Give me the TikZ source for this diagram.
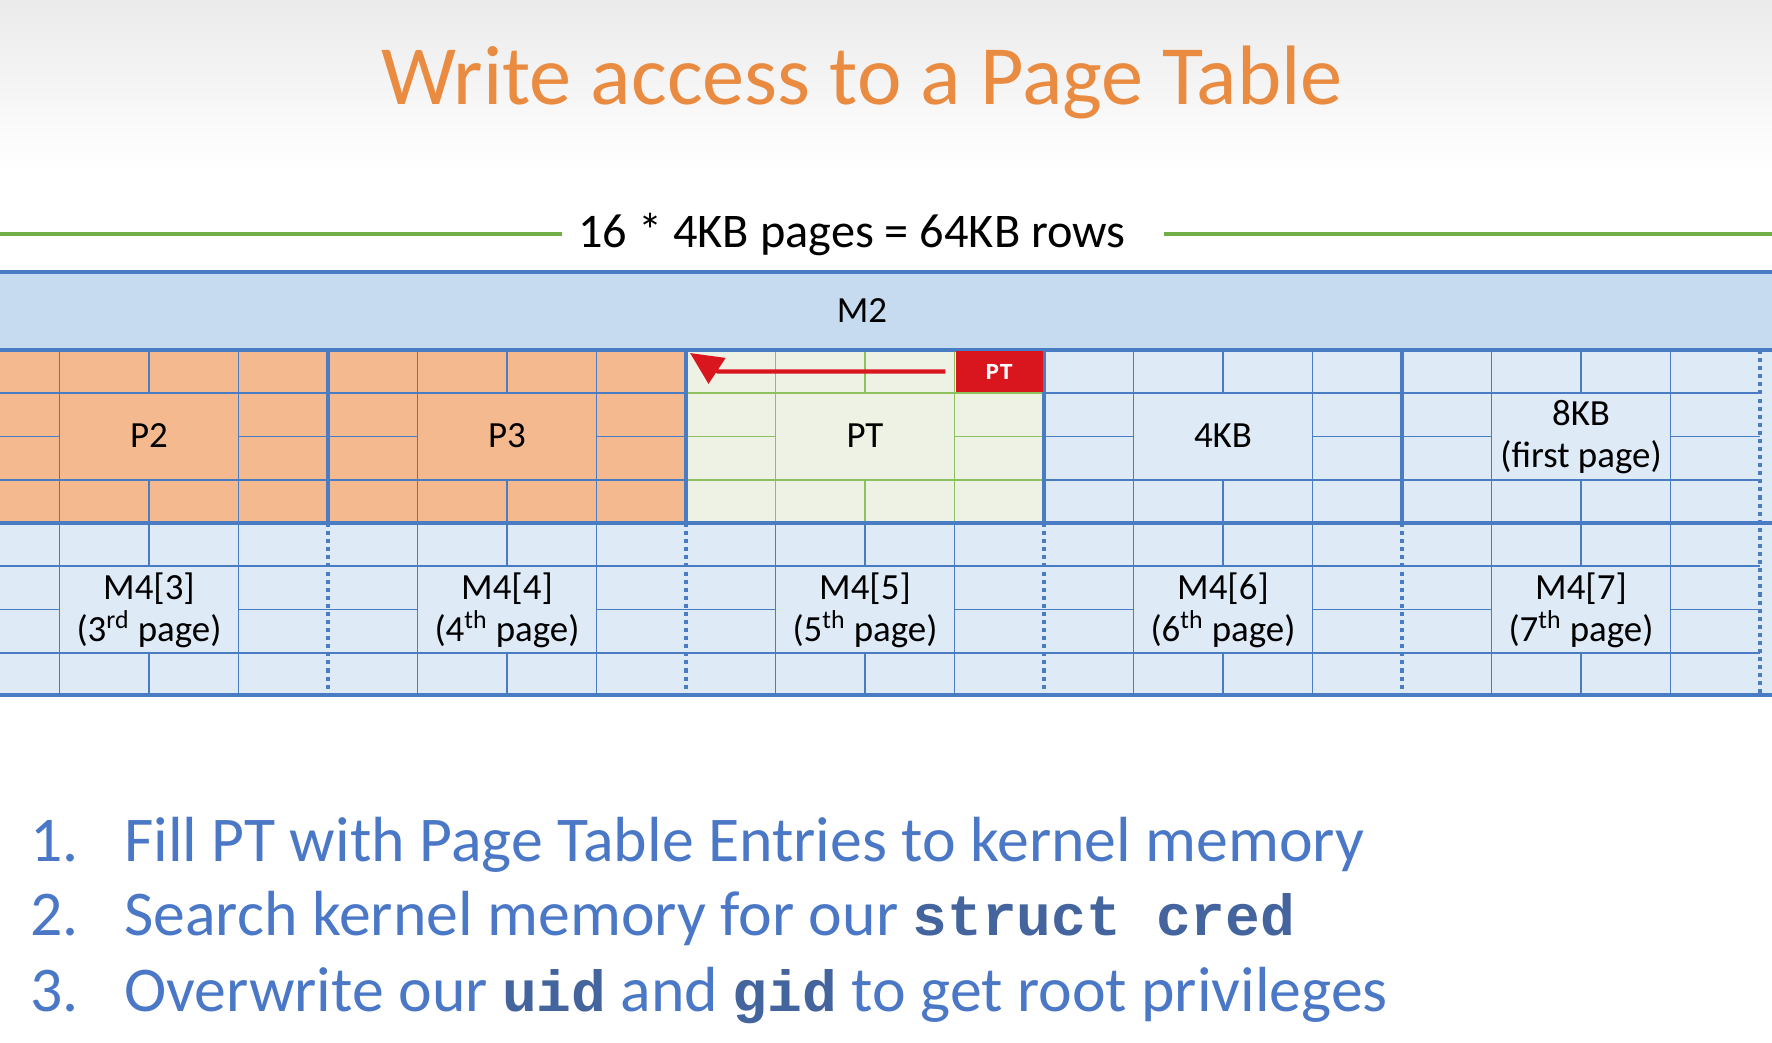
\documentclass[tikz,border=0pt]{standalone}
\usepackage{fontspec}
\setmainfont{Carlito}
\setmonofont{Liberation Mono}
\usepackage{tikz}
\usetikzlibrary{positioning, arrows.meta, calc}

\definecolor{gridblue}{HTML}{4A7CC4}
\definecolor{mtwofill}{HTML}{C6DAF0}
\definecolor{cellblue}{HTML}{DEEAF6}
\definecolor{pagepeach}{HTML}{F5B98F}
\definecolor{ptfill}{HTML}{EDF2E5}
\definecolor{ptgreen}{HTML}{8DC15E}
\definecolor{rulegreen}{HTML}{72AE48}
\definecolor{ptred}{HTML}{D9151D}
\definecolor{titleorange}{HTML}{EA8B42}
\definecolor{stepblue}{HTML}{4A78C6}
\definecolor{codeblue}{HTML}{44649E}

\begin{document}
\begin{tikzpicture}[
        x=0.02cm, y=-0.02cm,
        thinline/.style={gridblue, line width=1.1pt},
        thickline/.style={gridblue, line width=2.4pt},
        dotline/.style={gridblue, line width=2.4pt, dash pattern=on 2.3pt off 2.3pt},
        celllabel/.style={font=\fontsize{21}{24}\selectfont, align=center, inner sep=0pt},
        steptext/.style={font=\fontsize{36.3}{40}\selectfont, text=stepblue, anchor=base west, inner sep=0pt},
        code/.style={font=\fontsize{33}{40}\selectfont\ttfamily\bfseries, text=codeblue, inner sep=0pt}
    ]
    \useasboundingbox (0,0) rectangle (1772,1042);
    \fill[white] (0,0) rectangle (1772,1042);
    \shade[top color=black!8, bottom color=white] (0,0) rectangle (1772,170);

    % title and row size
    \node[font=\fontsize{48}{58}\selectfont, text=titleorange, anchor=base] (title) at (862,104) {Write access to a Page Table};
    \node[font=\fontsize{27.5}{32}\selectfont, inner sep=0pt] (rowsize) at (852,234) {16 * 4KB pages = 64KB rows};
    \draw[rulegreen, line width=2.2pt] (0,234) -- (562,234);
    \draw[rulegreen, line width=2.2pt] (1164,234) -- (1772,234);

    % M2 band
    \fill[mtwofill] (0,272) rectangle (1772,350);
    \node[celllabel] (mtwo) at (862,311) {M2};

    % row fills
    \foreach \k/\fc in {0/pagepeach, 1/pagepeach, 2/ptfill, 3/cellblue, 4/cellblue, 5/cellblue} {
        \fill[\fc] (-30+358*\k,350) rectangle (328+358*\k,523);
    }
    \fill[cellblue] (0,523) rectangle (1772,695);

    % brick pattern of 4KB pages
    \foreach \k in {0,...,4} {
        \foreach \t in {350,523} {
            \draw[thinline] (-30+358*\k,\t+43.25) -- ++(358,0)
                (-30+358*\k,\t+129.75) -- ++(358,0)
                (-30+358*\k,\t+86.5) -- ++(89.5,0)
                (238.5+358*\k,\t+86.5) -- ++(89.5,0)
                (59.5+358*\k,\t) -- ++(0,173)
                (238.5+358*\k,\t) -- ++(0,173)
                (149+358*\k,\t) -- ++(0,43.25)
                (149+358*\k,\t+129.75) -- ++(0,43.25);
        }
    }
    \draw[thinline, ptgreen] (686,393.25) -- ++(358,0)
        (686,479.75) -- ++(358,0)
        (686,436.5) -- ++(89.5,0)
        (954.5,436.5) -- ++(89.5,0)
        (775.5,350) -- ++(0,173)
        (954.5,350) -- ++(0,173)
        (865,350) -- ++(0,43.25)
        (865,479.75) -- ++(0,43.25);

    % row borders
    \foreach \y in {272, 350, 523, 695} {
        \draw[thickline] (0,\y) -- (1772,\y);
    }
    \foreach \x in {328, 686, 1044, 1402} {
        \draw[thickline] (\x,350) -- (\x,523);
        \draw[dotline] (\x,523) -- (\x,695);
    }
    \draw[dotline] (1760,350) -- (1760,695);

    % labels
    \node[celllabel] (ptwo) at (149,436) {P2};
    \node[celllabel] (pthree) at (507,436) {P3};
    \node[celllabel] (pttable) at (865,436) {PT};
    \node[celllabel] (fourkb) at (1223,436) {4KB};
    \node[celllabel] (eightkb) at (1581,437) {8KB\\(first page)};
    \foreach \k/\n/\s in {0/3/rd, 1/4/th, 2/5/th, 3/6/th, 4/7/th} {
        \node[celllabel] (mfour\n) at (149+358*\k,610) {M4[\n]\\(\n\textsuperscript{\s} page)};
    }

    % PT entry pointing back
    \node[fill=ptred, text=white, font=\fontsize{13}{14}\selectfont\ttfamily\bfseries, minimum width=1.74cm, minimum height=0.82cm, inner sep=0pt] (ptbox) at (999.25,371.5) {PT};
    \coordinate (ptcorner) at (690,353);
    \draw[ptred, line width=2.4pt, shorten <=0.2cm, -{Triangle[length=0.65cm, width=0.6cm]}] (ptbox.west) -- (718,371.5) -- (ptcorner);

    % steps
    \node[steptext] (numone) at (30,861) {1.};
    \node[steptext] (stepone) at (124,861) {Fill PT with Page Table Entries to kernel memory};
    \node[steptext] (numtwo) at (30,935) {2.};
    \node[steptext] (steptwo) at (124,935) {Search kernel memory for our {\fontsize{33}{40}\selectfont\ttfamily\bfseries\color{codeblue}struct cred}};
    \node[steptext] (numthree) at (30,1011) {3.};
    \node[steptext] (stepthree) at (124,1011) {Overwrite our {\fontsize{33}{40}\selectfont\ttfamily\bfseries\color{codeblue}uid} and {\fontsize{33}{40}\selectfont\ttfamily\bfseries\color{codeblue}gid} to get root privileges};
\end{tikzpicture}
\end{document}
